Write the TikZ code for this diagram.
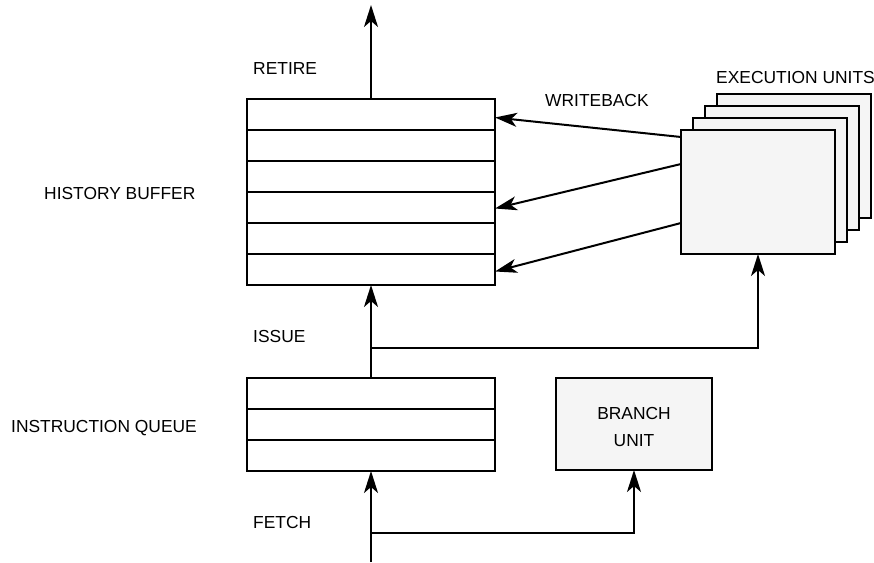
\documentclass[tikz,border=0pt]{standalone}
\usepackage{fontspec}
\setmainfont{Liberation Sans}
\usetikzlibrary{arrows.meta,positioning}
\definecolor{unitgray}{HTML}{F5F5F5}
\newcommand{\lblfont}{\fontsize{17.4}{27}\selectfont}
\tikzset{
  row/.style={draw, line width=2pt, minimum width=248pt, minimum height=31pt, inner sep=0pt, outer sep=0pt},
  unit/.style={draw, line width=2pt, fill=unitgray, inner sep=0pt, outer sep=0pt},
  lbl/.style={anchor=base west, inner sep=0pt, font=\lblfont},
  wire/.style={line width=2pt},
  flow/.style={wire, -{Stealth[length=22pt,width=14pt,inset=6pt]}}
}

\begin{document}
\begin{tikzpicture}[x=1pt,y=-1pt]
  \useasboundingbox (0,0) rectangle (874,562);

  % history buffer
  \node[row]  (hb1) at (371,114.5) {};
  \foreach \i [count=\j from 2] in {1,...,5}
    \node[row, below=0pt of hb\i] (hb\j) {};

  % instruction queue
  \node[row]  (iq1) at (371,393.5) {};
  \node[row, below=0pt of iq1] (iq2) {};
  \node[row, below=0pt of iq2] (iq3) {};

  % execution units, back to front
  \foreach \k in {3,2,1,0}
    \node[unit, minimum width=154pt, minimum height=124pt] (eu\k) at (758+12*\k,192-12*\k) {};

  \node[unit, minimum width=156pt, minimum height=92pt, align=center, font=\lblfont] (bu) at (634,424) {\rule{0pt}{18pt}BRANCH\\UNIT};

  \coordinate (retire) at (371,5);
  \coordinate (split)  at (371,348);
  \coordinate (fetch)  at (371,562);
  \coordinate (fork)   at (371,533);

  \draw[flow] (hb1.north) -- (retire);
  \draw[flow] (iq1.north) -- (hb6.south);
  \draw[flow] (split) -| (eu0.south);
  \draw[flow] (fetch) -- (iq3.south);
  \draw[flow] (fork) -| (bu.south);

  % writeback
  \draw[flow] ([yshift=55pt]eu0.west)  -- ([yshift=-3pt]hb1.east);
  \draw[flow] ([yshift=28pt]eu0.west)  -- ([yshift=-1pt]hb4.east);
  \draw[flow] ([yshift=-31pt]eu0.west) -- ([yshift=-2pt]hb6.east);

  \node[lbl] (retirelbl) at (253,74)  {RETIRE};
  \node[lbl] (wblbl)     at (545,106) {WRITEBACK};
  \node[lbl] (eulbl)     at (716,83)  {EXECUTION UNITS};
  \node[lbl] (hblbl)     at (44,199)  {HISTORY BUFFER};
  \node[lbl] (issuelbl)  at (253,342) {ISSUE};
  \node[lbl] (iqlbl)     at (11,432)  {INSTRUCTION QUEUE};
  \node[lbl] (fetchlbl)  at (253,528) {FETCH};
\end{tikzpicture}
\end{document}
